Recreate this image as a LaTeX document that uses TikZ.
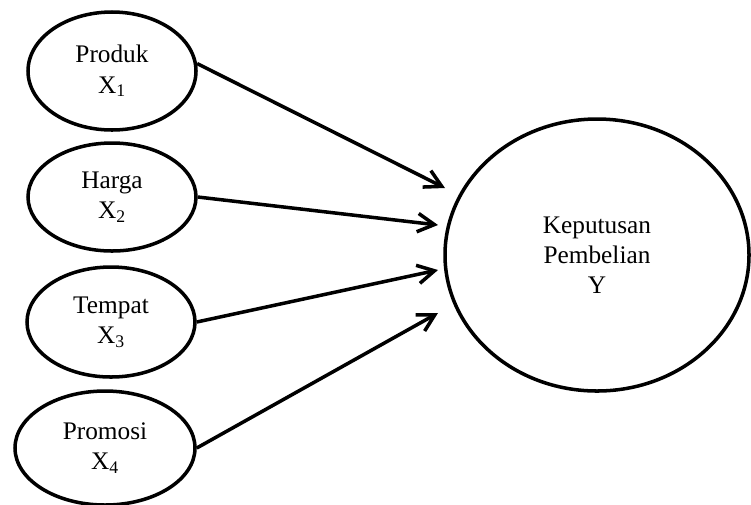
\documentclass[tikz,border=0pt]{standalone}
\usepackage{fontspec}
\setmainfont{Liberation Serif}
\usetikzlibrary{arrows.meta,shapes.geometric}

\begin{document}
\begin{tikzpicture}[font=\fontsize{18}{21.5}\selectfont]
\def\var#1#2{#1\\X\textsubscript{#2}}
\tikzstyle{varx}=[draw,ellipse,line width=2.5pt,align=center,inner sep=0pt,minimum width=4.2cm];
\tikzstyle{vary}=[draw,ellipse,line width=2.5pt,align=center,inner sep=0pt,minimum width=7.6cm,minimum height=6.8cm];
\tikzstyle{infl}=[-{Straight Barb[length=4.2mm,width=4.6mm]},line width=2.5pt];

\useasboundingbox (0,0) rectangle (18.775,-12.6);

\node [varx,minimum height=2.95cm] (x1) at (2.8,-1.775) {\var{Produk}{1}};
\node [varx,minimum height=2.7cm] (x2) at (2.8,-4.925) {\var{Harga}{2}};
\node [varx,minimum height=2.75cm] (x3) at (2.775,-8.05) {\var{Tempat}{3}};
\node [varx,minimum width=4.5cm,minimum height=2.85cm] (x4) at (2.625,-11.2) {\var{Promosi}{4}};

\node [vary] (y) at (14.925,-6.375) {Keputusan\\Pembelian\\Y};

%%

\coordinate (e1) at (11.125,-4.7);
\coordinate (e2) at (10.95,-5.625);
\coordinate (e3) at (10.95,-6.75);
\coordinate (e4) at (10.95,-7.825);

\draw [infl] (x1.5) -- (e1);
\draw [infl] (x2.east) -- (e2);
\draw [infl] (x3.east) -- (e3);
\draw [infl] (x4.east) -- (e4);
\end{tikzpicture}
\end{document}
